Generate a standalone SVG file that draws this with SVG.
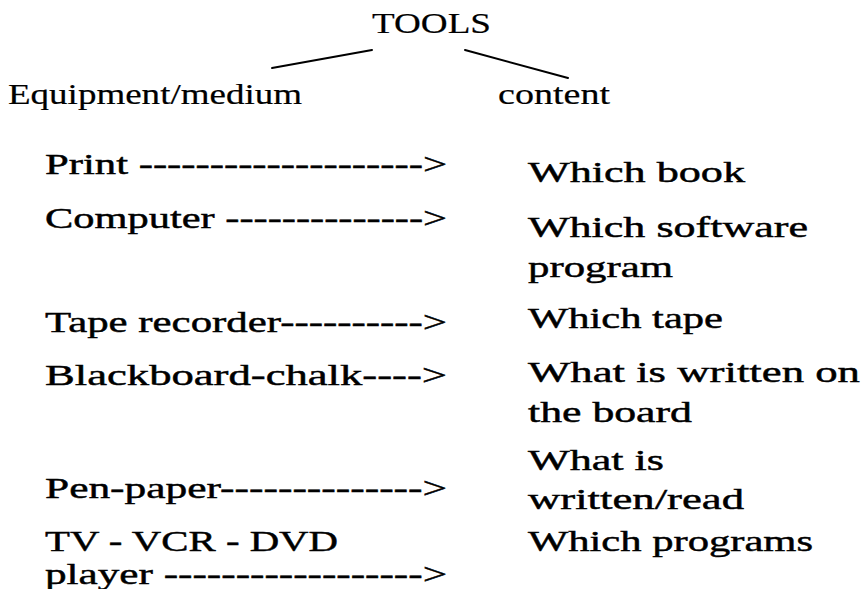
<svg xmlns="http://www.w3.org/2000/svg" width="864" height="589" viewBox="0 0 864 589">
  <style>
    text { font-family: "Liberation Serif", "Times New Roman", serif; font-size: 30px; fill: #000; stroke: #000; stroke-width: 0.45; }
    .head { stroke-width: 0.2; }
    .branch { stroke: #000; stroke-width: 2; fill: none; stroke-linecap: round; }
  </style>
  <rect width="864" height="589" fill="#fff"/>

  <!-- branches from the title to the two column headings -->
  <g id="connectors">
    <line class="branch" x1="272" y1="68" x2="372" y2="50"/>
    <line class="branch" x1="465" y1="50" x2="568" y2="78"/>
  </g>

  <!-- lettering is a wide face, so each line is set to its measured width -->
  <g id="tools"><text class="head" x="372" y="33" textLength="119" lengthAdjust="spacingAndGlyphs">TOOLS</text></g>

  <g id="equipment-header"><text class="head" x="8" y="104" textLength="294" lengthAdjust="spacingAndGlyphs">Equipment/medium</text></g>
  <g id="content-header"><text class="head" x="498" y="104" textLength="112" lengthAdjust="spacingAndGlyphs">content</text></g>

  <g id="print"><text x="45" y="174" textLength="402" lengthAdjust="spacingAndGlyphs">Print --------------------&gt;</text></g>
  <g id="which-book"><text x="528" y="182" textLength="217" lengthAdjust="spacingAndGlyphs">Which book</text></g>

  <g id="computer"><text x="45" y="228" textLength="402" lengthAdjust="spacingAndGlyphs">Computer --------------&gt;</text></g>
  <g id="which-software">
    <text x="528" y="237" textLength="280" lengthAdjust="spacingAndGlyphs">Which software</text>
    <text x="528" y="277" textLength="145" lengthAdjust="spacingAndGlyphs">program</text>
  </g>

  <g id="tape-recorder"><text x="45" y="332" textLength="402" lengthAdjust="spacingAndGlyphs">Tape recorder----------&gt;</text></g>
  <g id="which-tape"><text x="528" y="328" textLength="195" lengthAdjust="spacingAndGlyphs">Which tape</text></g>

  <g id="blackboard"><text x="45" y="385" textLength="402" lengthAdjust="spacingAndGlyphs">Blackboard-chalk----&gt;</text></g>
  <g id="written-board">
    <text x="528" y="382" textLength="332" lengthAdjust="spacingAndGlyphs">What is written on</text>
    <text x="528" y="422" textLength="164" lengthAdjust="spacingAndGlyphs">the board</text>
  </g>

  <g id="pen-paper"><text x="45" y="498" textLength="402" lengthAdjust="spacingAndGlyphs">Pen-paper--------------&gt;</text></g>
  <g id="written-read">
    <text x="528" y="470" textLength="136" lengthAdjust="spacingAndGlyphs">What is</text>
    <text x="528" y="509" textLength="216" lengthAdjust="spacingAndGlyphs">written/read</text>
  </g>

  <g id="tv-vcr-dvd">
    <text x="45" y="551" textLength="293" lengthAdjust="spacingAndGlyphs">TV - VCR - DVD</text>
    <text x="45" y="584" textLength="402" lengthAdjust="spacingAndGlyphs">player ------------------&gt;</text>
  </g>
  <g id="which-programs"><text x="528" y="551" textLength="285" lengthAdjust="spacingAndGlyphs">Which programs</text></g>
</svg>
